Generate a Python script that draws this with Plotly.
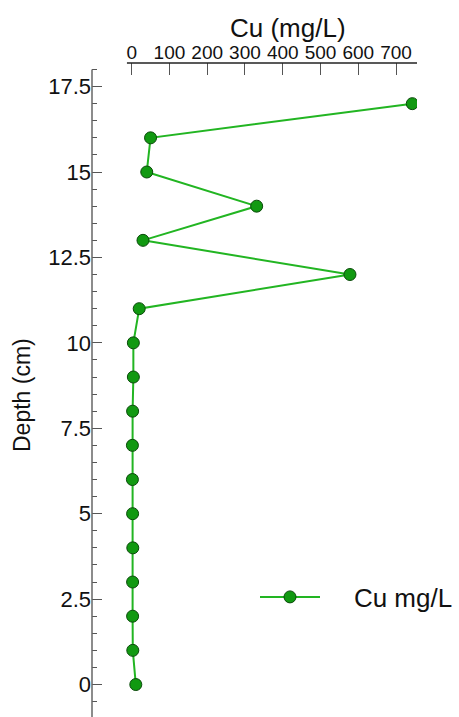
import plotly.graph_objects as go

depth = [0, 1, 2, 3, 4, 5, 6, 7, 8, 9, 10, 11, 12, 13, 14, 15, 16, 17]
cu = [11, 3, 2.5, 2.5, 3, 2.5, 2, 2, 2.5, 4.5, 4.5, 20, 578, 30, 331, 40, 50, 743]
x_ticks = [0, 100, 200, 300, 400, 500, 600, 700]
y_ticks = [0, 2.5, 5, 7.5, 10, 12.5, 15, 17.5]
y_tick_text = ["0", "2.5", "5", "7.5", "10", "12.5", "15", "17.5"]

W, H = 459, 717
L, R, T, B = 92, 42, 63, 0
pw, ph = W - L - R, H - T - B

FONT = "Liberation Sans, Arial, sans-serif"
AX = "#555555"
NB = "\u00a0"

fig = go.Figure()
fig.add_trace(go.Scatter(
    x=cu, y=depth, mode="lines+markers", name=NB * 4 + "Cu mg/L",
    line=dict(color="#22b522", width=2),
    marker=dict(size=12, color="#119911", line=dict(color="#0a4a0a", width=1)),
))

fig.update_layout(
    width=W, height=H,
    margin=dict(l=L, r=R, t=T, b=B, pad=0),
    paper_bgcolor="white", plot_bgcolor="white",
    font=dict(family=FONT, color="#111111"),
    showlegend=True,
    legend=dict(x=(255 - L) / pw, y=(H - 597) / ph, xanchor="left", yanchor="middle",
                font=dict(size=26, family=FONT, color="#111111"),
                bgcolor="rgba(0,0,0,0)", itemwidth=60),
    xaxis=dict(side="top", range=[-105, 755.5], tickvals=x_ticks,
               ticks="inside", ticklen=12, tickcolor=AX, tickwidth=1,
               showgrid=False, zeroline=False, showline=False,
               tickfont=dict(size=19, family=FONT, color="#111111"),
               ticklabelstandoff=-1),
    yaxis=dict(range=[-0.95, 18.19], tickvals=y_ticks, ticktext=y_tick_text,
               ticks="inside", ticklen=10, tickcolor=AX, tickwidth=1,
               minor=dict(dtick=0.5, ticks="inside", ticklen=5, tickcolor=AX, tickwidth=1),
               showgrid=False, zeroline=False, showline=False,
               tickfont=dict(size=22, family=FONT, color="#111111")),
)

# axis lines
fig.add_shape(type="line", xref="x", yref="paper", x0=-12.5, x1=755.5, y0=1, y1=1,
              line=dict(color="#222222", width=1.5))
fig.add_shape(type="line", xref="paper", yref="y", x0=0, x1=0, y0=-0.95, y1=18.0,
              line=dict(color="#666666", width=1.5))

fig.add_annotation(text="Cu (mg/L)", xref="paper", yref="paper",
                   x=(288 - L) / pw, y=(H - 28) / ph, xanchor="center", yanchor="middle",
                   showarrow=False, font=dict(size=26, family=FONT, color="#111111"))
fig.add_annotation(text="Depth (cm)", xref="paper", yref="paper", textangle=-90,
                   x=(22 - L) / pw, y=(H - 395) / ph, xanchor="center", yanchor="middle",
                   showarrow=False, font=dict(size=23, family=FONT, color="#111111"))

fig.write_html("out.html", config={"displayModeBar": False},
               post_script="document.body.style.margin='0';document.body.style.overflow='hidden';")
